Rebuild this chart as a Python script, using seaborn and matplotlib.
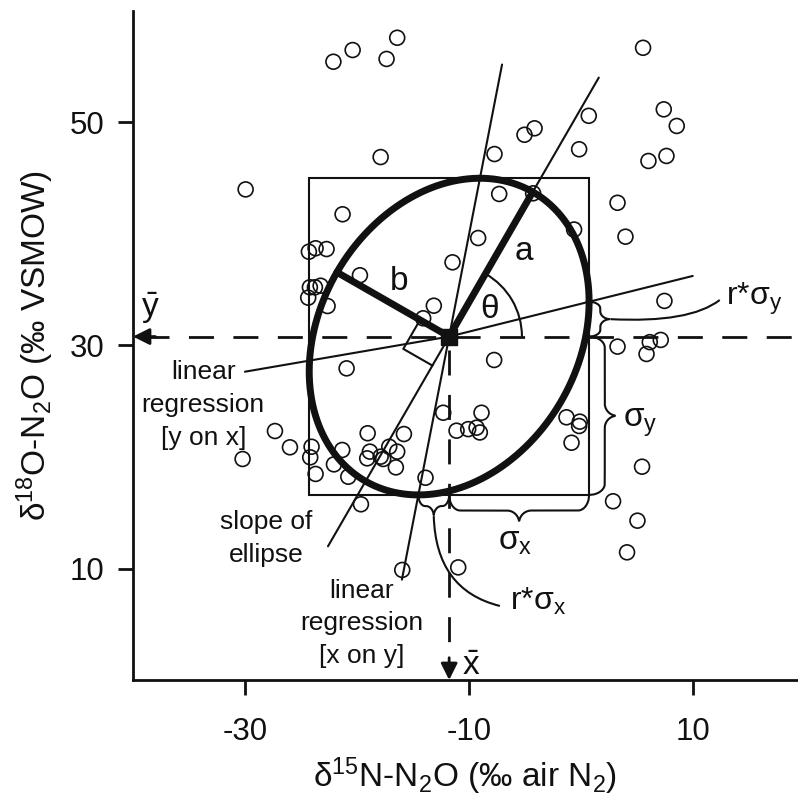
import numpy as np
import pandas as pd
import matplotlib
matplotlib.use("Agg")
import matplotlib.pyplot as plt
import seaborn as sns
from matplotlib.patches import Rectangle, Arc, PathPatch
from matplotlib.path import Path

# ---------------- data ----------------
d15N = [-22.1, -20.38, -17.35, -16.4, -17.88, -29.94, -21.28, -24.29, -23.69, -22.71,
        -19.73, -24.2, -23.24, -23.75, -24.35, -22.62, -11.46, -13.13, -14.08,
        5.56, 7.41, 8.57, 7.65, 6.04, 0.71, -4.13, -5.03, -0.15, -7.71,
        3.28, 3.99, -7.29, -4.26, -0.6, -9.17, 7.47, 3.28, 6.16, 7.14, 5.87,
        -7.74, -8.87, -11.1, -10.06, -9.31, -9.02, -1.28, -0.09, -0.15, -0.83,
        5.47, 2.88, 5.06, 4.13, -10.95,
        -20.92, -12.29, -27.32, -25.98, -30.21, -24.05, -24.17, -23.69, -22.05, -20.77,
        -21.31, -19.04, -15.8, -18.84, -19.08, -17.88, -17.65, -17.11, -16.4, -16.52,
        -13.87, -19.64, -15.95]
d18O = [55.45, 56.5, 55.7, 57.6, 46.9, 44.0, 41.77, 38.41, 38.72, 38.65,
        36.3, 35.22, 35.36, 35.22, 34.29, 33.54, 37.46, 33.57, 32.44,
        56.7, 51.18, 49.69, 47.0, 46.55, 50.6, 49.48, 48.9, 47.6, 47.17,
        42.8, 39.76, 43.59, 43.65, 40.4, 39.64, 34.0, 29.9, 30.3, 30.5, 29.24,
        28.7, 23.97, 22.36, 22.5, 22.63, 22.2, 23.56, 23.17, 22.78, 21.28,
        19.13, 16.03, 14.29, 11.45, 10.1,
        27.95, 23.97, 22.33, 20.87, 19.82, 20.92, 19.97, 18.48, 19.34, 18.23,
        20.63, 22.13, 22.06, 20.48, 19.88, 20.03, 19.82, 20.92, 20.48, 19.07,
        18.14, 15.76, 9.87]

mean_x = -11.76
mean_y = 30.8
sd_x = 12.5
sd_y = 14.2
r_xy = 0.22

x_ticks = [-30, -10, 10]
y_ticks = [10, 30, 50]
x_label = "δ$^{15}$N-N$_2$O (‰ air N$_2$)"
y_label = "δ$^{18}$O-N$_2$O (‰ VSMOW)"

# ---------------- style ----------------
sns.set_style("ticks")
K = "#111111"
plt.rcParams["font.family"] = ["Liberation Sans", "DejaVu Sans"]
plt.rcParams["mathtext.fontset"] = "custom"
plt.rcParams["mathtext.rm"] = "Liberation Sans"
plt.rcParams["mathtext.it"] = "Liberation Sans:italic"
plt.rcParams["mathtext.bf"] = "Liberation Sans:bold"
plt.rcParams["mathtext.sf"] = "Liberation Sans"
plt.rcParams["axes.unicode_minus"] = False
plt.rcParams["text.color"] = K
plt.rcParams["axes.labelcolor"] = K

XLIM = (-40, 19.4)
YLIM = (0, 60)

fig = plt.figure(figsize=(7.98, 8.01), dpi=100)
ax = fig.add_axes([133 / 798, 121 / 801, 665 / 798, 669 / 801])

df = pd.DataFrame({"x": d15N, "y": d18O})
sns.scatterplot(data=df, x="x", y="y", ax=ax, s=115, facecolor="none",
                edgecolor=K, linewidth=1.2, zorder=4, legend=False)

# ---------------- derived geometry ----------------
cov = np.array([[sd_x ** 2, r_xy * sd_x * sd_y], [r_xy * sd_x * sd_y, sd_y ** 2]])
vals, vecs = np.linalg.eigh(cov)
u_maj = vecs[:, 1] * np.sign(vecs[0, 1])
a_len, b_len = np.sqrt(vals[1]), np.sqrt(vals[0])
u_min = np.array([-u_maj[1], u_maj[0]])
theta = np.degrees(np.arctan2(u_maj[1], u_maj[0]))
m = np.array([mean_x, mean_y])

thin = 1.5
# box mean +- sd
ax.add_patch(Rectangle((mean_x - sd_x, mean_y - sd_y), 2 * sd_x, 2 * sd_y,
                       fill=False, lw=thin, ec=K, zorder=2))

# ellipse
t = np.linspace(0, 2 * np.pi, 500)
ex = mean_x + sd_x * np.cos(t)
ey = mean_y + sd_y * (r_xy * np.cos(t) + np.sqrt(1 - r_xy ** 2) * np.sin(t))
ax.plot(ex, ey, color=K, lw=5, zorder=3, solid_capstyle="round")

# a and b semi-axes
pa = m + a_len * u_maj
pb = m + b_len * u_min
ax.plot([m[0], pa[0]], [m[1], pa[1]], color=K, lw=5, zorder=3)
ax.plot([m[0], pb[0]], [m[1], pb[1]], color=K, lw=5, zorder=3)

# slope of ellipse (major axis line)
s0, s1 = -21.7, 26.8
ax.plot([m[0] + s0 * u_maj[0], m[0] + s1 * u_maj[0]],
        [m[1] + s0 * u_maj[1], m[1] + s1 * u_maj[1]], color=K, lw=thin, zorder=3)

# regression y on x
slope_yx = r_xy * sd_y / sd_x
x_end = 10.0
ax.plot([mean_x, x_end], [mean_y, mean_y + slope_yx * (x_end - mean_x)], color=K, lw=thin, zorder=3)
ax.plot([-30.0, mean_x], [27.65, mean_y], color=K, lw=thin, zorder=3)

# regression x on y
slope_xy = r_xy * sd_x / sd_y
y0, y1 = 9.0, 55.2
ax.plot([mean_x + slope_xy * (y0 - mean_y), mean_x + slope_xy * (y1 - mean_y)], [y0, y1],
        color=K, lw=thin, zorder=3)

# right-angle marker
sq = 3.0
c1 = m + sq * u_min
c2 = m + sq * u_min - sq * u_maj
c3 = m - sq * u_maj
ax.plot([c1[0], c2[0], c3[0]], [c1[1], c2[1], c3[1]], color=K, lw=thin, zorder=3)

# theta arc
ax.add_patch(Arc((mean_x, mean_y), 13.0, 13.0, theta1=0, theta2=theta, lw=thin, color=K, zorder=3))

# centre point
ax.plot([mean_x], [mean_y], marker="s", ms=12, color=K, zorder=5)

# dashed mean lines with arrows
dash = (0, (9, 7))
ax.plot([XLIM[0] + 1.0, XLIM[1]], [mean_y, mean_y], color=K, lw=2, ls=dash, zorder=2, clip_on=False)
ax.plot([mean_x, mean_x], [mean_y - 1.2, YLIM[0] + 1.0], color=K, lw=2, ls=dash, zorder=2)
arrow = dict(arrowstyle="-|>,head_length=0.5,head_width=0.25", mutation_scale=20,
             color=K, lw=2, shrinkA=0, shrinkB=0)
ax.annotate("", xy=(XLIM[0], mean_y), xytext=(XLIM[0] + 2.0, mean_y), arrowprops=arrow,
            annotation_clip=False)
ax.annotate("", xy=(mean_x, YLIM[0]), xytext=(mean_x, YLIM[0] + 2.0), arrowprops=arrow,
            annotation_clip=False)


# ---------------- braces ----------------
def brace(p0, p1, nrm, flat, depth, e1, e2, n=400):
    p0 = np.asarray(p0, float)
    p1 = np.asarray(p1, float)
    nrm = np.asarray(nrm, float)
    d = p1 - p0
    L = np.hypot(*d)
    u = d / L
    s = np.linspace(0, L, n)
    mm = np.minimum(s, L - s)
    half = L / 2
    sc = min(1.0, half / (e1 + e2))
    e1s, e2s = e1 * sc, e2 * sc
    h = np.where(mm < e1s, flat * np.sqrt(np.clip(1 - (1 - mm / e1s) ** 2, 0, 1)), flat)
    q = (mm - (half - e2s)) / e2s
    h = np.where(mm > half - e2s, flat + (depth - flat) * (1 - np.sqrt(np.clip(1 - q ** 2, 0, 1))), h)
    pts = p0[None, :] + s[:, None] * u[None, :] + h[:, None] * nrm[None, :]
    tip = p0 + half * u + depth * nrm
    return pts[:, 0], pts[:, 1], tip


bx_r = mean_x + sd_x
by_b = mean_y - sd_y
bl = dict(color=K, lw=1.5, zorder=3)

xs, ys, _ = brace((bx_r, mean_y), (bx_r, by_b), (1, 0), 1.4, 2.5, 1.0, 1.1)
ax.plot(xs, ys, **bl)
xs, ys, _ = brace((mean_x, by_b), (bx_r, by_b), (0, -1), 1.4, 2.5, 1.0, 1.1)
ax.plot(xs, ys, **bl)
xs, ys, tip_ry = brace((bx_r, mean_y), (bx_r, mean_y + r_xy * sd_y), (1, 0), 1.0, 1.9, 0.6, 0.7)
ax.plot(xs, ys, **bl)
xs, ys, tip_rx = brace((mean_x - r_xy * sd_x, by_b), (mean_x, by_b), (0, -1), 1.0, 1.9, 0.6, 0.7)
ax.plot(xs, ys, **bl)


def qcurve(p0, pc, p1):
    path = Path([p0, pc, p1], [Path.MOVETO, Path.CURVE3, Path.CURVE3])
    ax.add_patch(PathPatch(path, fill=False, ec=K, lw=1.5, zorder=3))


qcurve(tuple(tip_ry), (9.73, 32.0), (12.41, 34.08))
qcurve(tuple(tip_rx), (-12.95, 8.07), (-7.23, 6.64))

# ---------------- texts ----------------
big = 24
mid = 19
ax.text(-39.3, 32.6, r"$\bar{\mathrm{y}}$", fontsize=big, ha="left", va="baseline")
ax.text(-10.6, 0.45, r"$\bar{\mathrm{x}}$", fontsize=big, ha="left", va="baseline")
ax.text(-5.9, 37.67, "a", fontsize=big, ha="left", va="baseline")
ax.text(-17.05, 34.98, "b", fontsize=big, ha="left", va="baseline")
ax.text(-9.0, 32.47, "θ", fontsize=big, ha="left", va="baseline")
ax.text(3.75, 22.7, r"σ$_\mathrm{y}$", fontsize=big, ha="left", va="baseline")
ax.text(-7.41, 11.66, r"σ$_\mathrm{x}$", fontsize=big, ha="left", va="baseline")
ax.text(13.0, 33.63, r"r*σ$_\mathrm{y}$", fontsize=big - 1, ha="left", va="baseline")
ax.text(-6.34, 6.28, r"r*σ$_\mathrm{x}$", fontsize=big - 1, ha="left", va="baseline")

blk = dict(fontsize=mid, ha="center", va="top", multialignment="center", linespacing=1.45)
ax.text(-33.72, 28.66, "linear\nregression\n[y on x]", **blk)
ax.text(-28.08, 15.21, "slope of\nellipse", **blk)
ax.text(-19.6, 9.09, "linear\nregression\n[x on y]", **blk)

# ---------------- axes ----------------
ax.set_xlim(*XLIM)
ax.set_ylim(*YLIM)
ax.set_xticks(x_ticks)
ax.set_yticks(y_ticks)
sns.despine(ax=ax)
for sp in ("left", "bottom"):
    ax.spines[sp].set_linewidth(2)
    ax.spines[sp].set_color(K)
ax.tick_params(axis="both", width=2, length=10.5, labelsize=22.5, color=K, labelcolor=K)
ax.tick_params(axis="x", pad=16.5)
ax.tick_params(axis="y", pad=10)
ax.set_xlabel(x_label, fontsize=24, labelpad=6, color=K)
ax.set_ylabel(y_label, fontsize=24, labelpad=10, color=K)

fig.savefig("out.png", dpi=100)
